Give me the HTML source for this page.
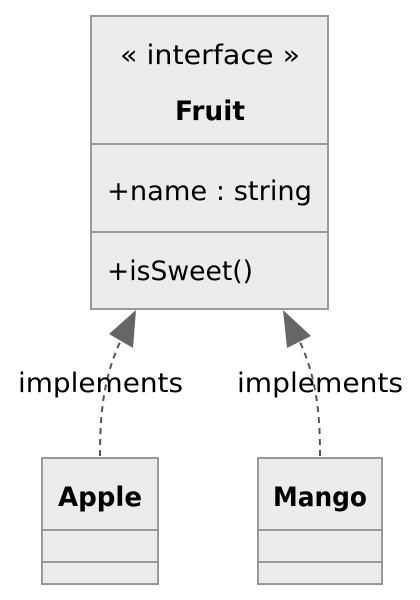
<!DOCTYPE html>
<html><head><meta charset="utf-8"><style>html,body{margin:0;padding:0;background:#fff}svg{display:block}</style></head>
<body>
<svg width="420" height="600" viewBox="0 0 420 600" xmlns="http://www.w3.org/2000/svg" font-family="'DejaVu Sans','Liberation Sans',sans-serif" font-size="27" fill="#000">
<g fill="#ececec" stroke="#999" stroke-width="2">
<rect x="91" y="16" width="237" height="293"/>
<line x1="91" y1="144" x2="328" y2="144"/>
<line x1="91" y1="232" x2="328" y2="232"/>
<rect x="42" y="458" width="116" height="126"/>
<line x1="42" y1="530" x2="158" y2="530"/>
<line x1="42" y1="562" x2="158" y2="562"/>
<rect x="258" y="458" width="124" height="126"/>
<line x1="258" y1="530" x2="382" y2="530"/>
<line x1="258" y1="562" x2="382" y2="562"/>
</g>
<g fill="none" stroke="#555" stroke-width="2" stroke-dasharray="6,5">
<path d="M100 456 C100 420 102 380 121 340"/>
<path d="M320 456 C320 420 318 380 299 340"/>
</g>
<polygon points="136,310 109,334 133,348" fill="#666"/>
<polygon points="283,310 311,336 287,348" fill="#666"/>
<text x="120" y="64" textLength="180" lengthAdjust="spacingAndGlyphs">« interface »</text>
<text x="175" y="120" font-weight="bold" textLength="70" lengthAdjust="spacingAndGlyphs">Fruit</text>
<text x="107" y="200" textLength="205" lengthAdjust="spacingAndGlyphs">+name : string</text>
<text x="107" y="280" textLength="146" lengthAdjust="spacingAndGlyphs">+isSweet()</text>
<text x="18" y="392" textLength="165" lengthAdjust="spacingAndGlyphs">implements</text>
<text x="237" y="392" textLength="166" lengthAdjust="spacingAndGlyphs">implements</text>
<text x="58" y="506" font-weight="bold" textLength="84" lengthAdjust="spacingAndGlyphs">Apple</text>
<text x="273" y="506" font-weight="bold" textLength="94" lengthAdjust="spacingAndGlyphs">Mango</text>
</svg>
</body></html>
